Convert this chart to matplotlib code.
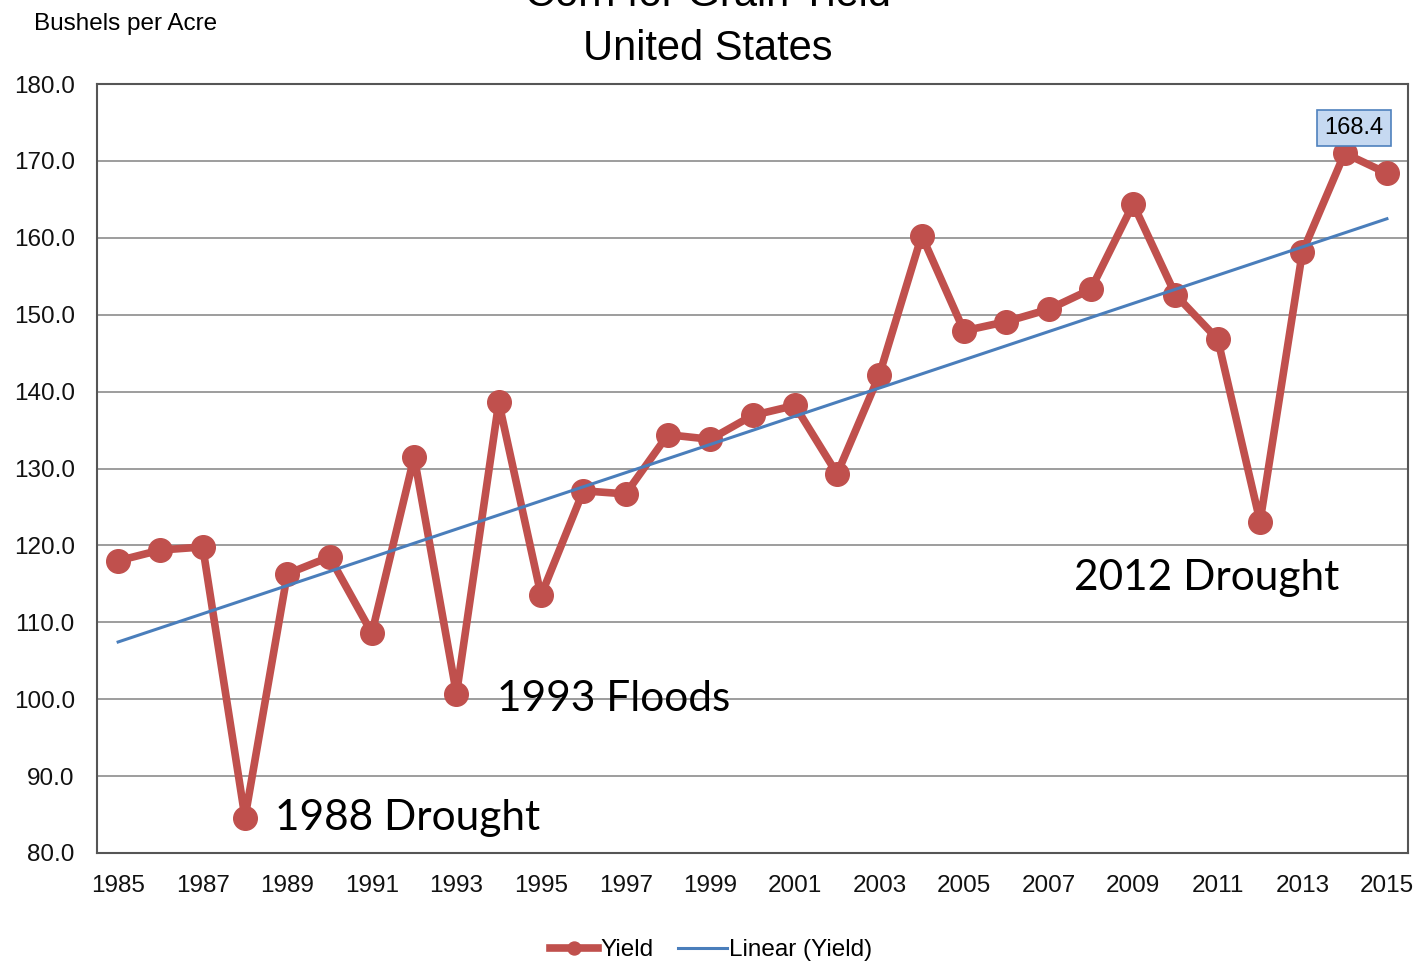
import numpy as np
import matplotlib.pyplot as plt

# US corn for grain yield, bushels per acre
years = np.arange(1985, 2016)
yield_bu = [118.0, 119.4, 119.8, 84.6, 116.3, 118.5, 108.6, 131.5, 100.7, 138.6,
            113.5, 127.1, 126.7, 134.4, 133.8, 136.9, 138.2, 129.3, 142.2, 160.3,
            147.9, 149.1, 150.7, 153.3, 164.4, 152.6, 146.8, 123.1, 158.1, 171.0,
            168.4]
events = ['1988 Drought', '1993 Floods', '2012 Drought']
event_pos = [(1988.7, 84.5), (1993.95, 100.0), (2007.6, 115.8)]
point_label = '168.4'

red = '#C0504D'
blue = '#4A7EBB'

plt.rcParams['font.family'] = ['Liberation Sans', 'DejaVu Sans']

fig = plt.figure(figsize=(14.22, 9.66), dpi=100)
ax = fig.add_axes([0.0682, 0.117, 0.922, 0.796])

ax.plot(years, yield_bu, color=red, lw=5.5, marker='o', ms=17,
        label='Yield', zorder=3)
coef = np.polyfit(years, yield_bu, 1)
ax.plot(years, np.polyval(coef, years), color=blue, lw=2.2,
        label='Linear (Yield)', zorder=4)

ax.set_xlim(1984.5, 2015.5)
ax.set_ylim(80, 180)
ax.set_xticks(years[::2])
ax.set_xticklabels([str(y) for y in years[::2]])
ax.set_yticks(np.arange(80, 181, 10))
ax.set_yticklabels(['%.1f' % v for v in np.arange(80, 181, 10)])
ax.tick_params(length=0, labelsize=17.5, colors='#111111', pad=16)
ax.tick_params(axis='x', pad=16)
ax.grid(axis='y', color='#8C8C8C', lw=1.2)
ax.set_axisbelow(True)
for s in ax.spines.values():
    s.set_color('#555555')
    s.set_linewidth(1.5)

for txt, (x, y) in zip(events, event_pos):
    ax.text(x, y, txt, fontsize=30.5, family=['Lato', 'DejaVu Sans'],
            ha='left', va='center', zorder=5)

ax.text(2014.22, 174.3, point_label, fontsize=17, ha='center', va='center',
        bbox=dict(boxstyle='square,pad=0.3', fc='#C6D9F1', ec='#4F81BD', lw=1.2),
        zorder=6)

fig.text(0.498, 1 - 60 / 966, 'United States', fontsize=30, ha='center',
         va='baseline')
fig.text(0.498, 1 - 6 / 966, 'Corn for Grain Yield', fontsize=30,
         ha='center', va='baseline')
fig.text(0.024, 1 - 30 / 966, 'Bushels per Acre', fontsize=17.5, ha='left',
         va='baseline')

fig.legend(loc='center', bbox_to_anchor=(0.5, 1 - 950 / 966), ncol=2,
           frameon=False, fontsize=17.5, handlelength=2.0, handletextpad=0.1,
           columnspacing=1.0, markerscale=0.55)

fig.savefig('out.png', dpi=100)
